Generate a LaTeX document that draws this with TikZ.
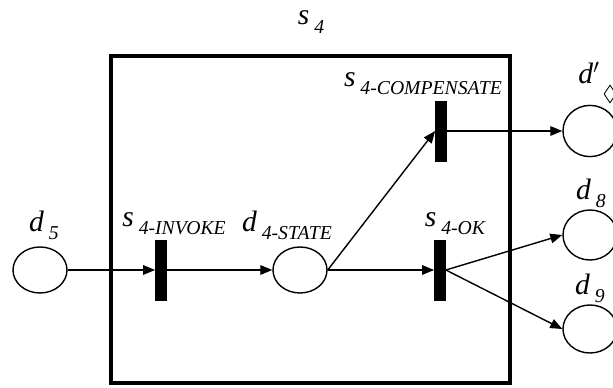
\documentclass[tikz,border=0pt]{standalone}
\usepackage{fontspec}
\setmainfont{Liberation Serif}[ItalicFont={Liberation Serif Italic}]
\usetikzlibrary{shapes.geometric,arrows.meta}
\newcommand{\plab}[2]{{\fontsize{21}{23}\selectfont\itshape #1\,\raisebox{-0.28em}{\fontsize{14}{16}\selectfont #2}}}

\begin{document}
\begin{tikzpicture}[x=0.025cm,y=-0.025cm,>={Triangle[length=3mm,width=2.4mm]},
  place/.style={draw,ellipse,line width=1pt,minimum width=1.35cm,minimum height=1.15cm,inner sep=0pt},
  trans/.style={draw,fill=black,rectangle,minimum width=0.28cm,minimum height=1.5cm,inner sep=0pt},
  arc/.style={->,line width=1pt}]
\useasboundingbox (0,0) rectangle (613,388);
\clip (0,0) rectangle (613,388);
% enclosing box of s4
\draw[line width=2.2pt] (111,56) rectangle (510,383);
\node (s4) at (311,22) {\plab{s}{4}};
% places
\node[place] (d5) at (40,270) {};
\node[place] (dst) at (300,270) {};
\node[place,minimum height=1.28cm] (dp) at (590,131) {};
\node[place,minimum height=1.25cm] (d8) at (590,235) {};
\node[place,minimum height=1.2cm] (d9) at (590,329) {};
% transitions
\node[trans] (inv) at (161,270) {};
\node[trans] (ok) at (440,270) {};
\node[trans] (comp) at (441,131) {};
% labels
\node (ld5) at (44,225) {\plab{d}{5}};
\node (linv) at (174,224) {\plab{s}{4-INVOKE}};
\node (ldst) at (287,225) {\plab{d}{4-STATE}};
\node (lok) at (455,224) {\plab{s}{4-OK}};
\node (lcomp) at (423,84) {\plab{s}{4-COMPENSATE}};
\node (ldp) at (589,73) {\fontsize{21}{23}\selectfont\itshape d$'$};
\node (ld8) at (591,193) {\plab{d}{8}};
\node (ld9) at (590,288) {\plab{d}{9}};
\node[draw,diamond,line width=0.6pt,minimum width=0.3cm,minimum height=0.45cm,inner sep=0pt] (dm) at (610,94) {};
% arcs
\draw[arc] (d5) -- (inv);
\draw[arc] (inv) -- (dst);
\draw[arc] (dst) -- (ok);
\draw[arc] (dst.east) -- (comp.west);
\draw[arc] (comp) -- (dp);
\draw[arc] (ok.east) -- (d8.west);
\draw[arc] (ok.east) -- (d9.west);
\end{tikzpicture}
\end{document}
